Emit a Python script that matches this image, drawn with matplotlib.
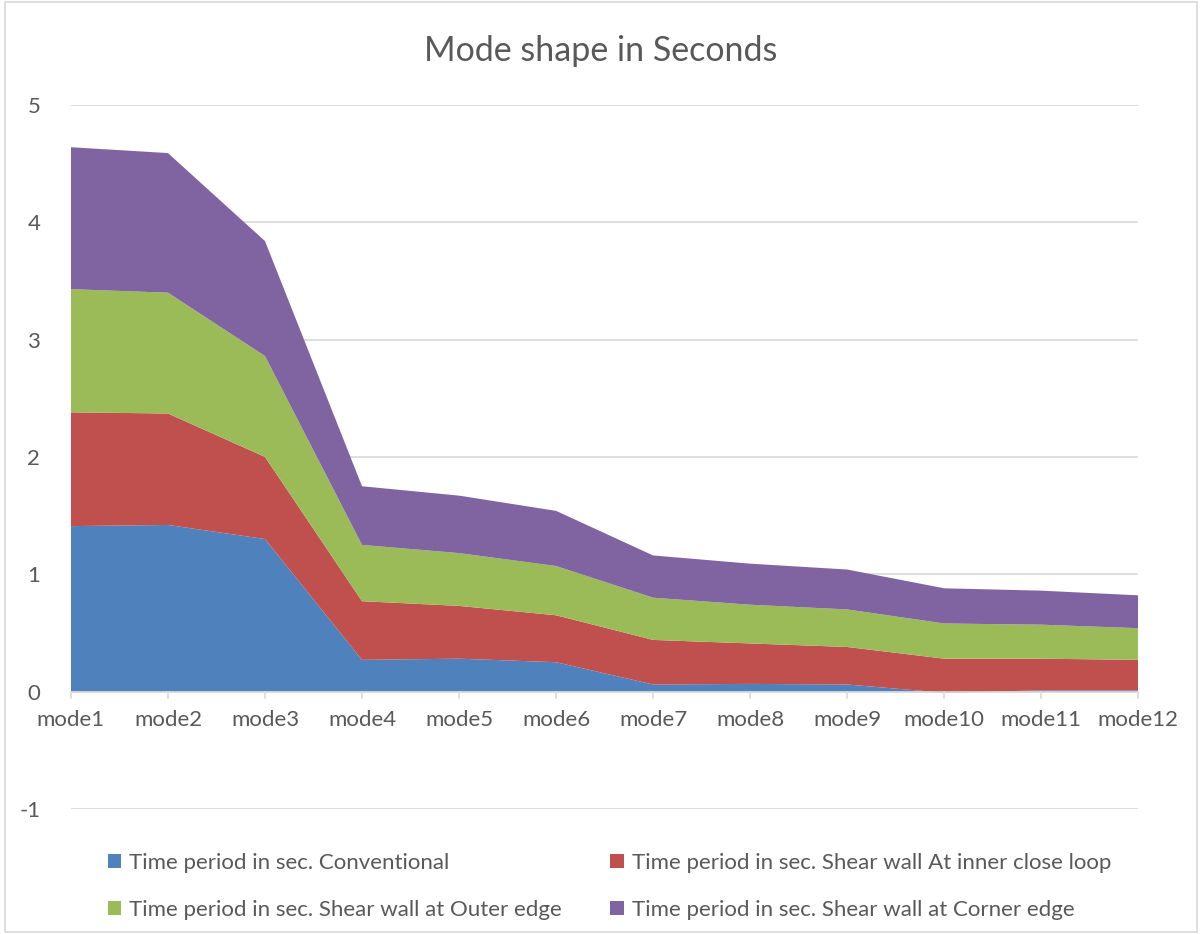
import matplotlib.pyplot as plt
from matplotlib.patches import Rectangle

plt.rcParams['font.family'] = ['Lato', 'DejaVu Sans']
plt.rcParams['axes.unicode_minus'] = False

modes = ["mode1", "mode2", "mode3", "mode4", "mode5", "mode6",
         "mode7", "mode8", "mode9", "mode10", "mode11", "mode12"]
conventional = [1.41, 1.42, 1.30, 0.27, 0.28, 0.25, 0.06, 0.065, 0.06, -0.01, 0.01, 0.01]
inner_loop = [0.97, 0.95, 0.70, 0.50, 0.45, 0.40, 0.38, 0.345, 0.32, 0.29, 0.27, 0.26]
outer_edge = [1.05, 1.03, 0.86, 0.48, 0.45, 0.42, 0.36, 0.33, 0.32, 0.30, 0.29, 0.27]
corner_edge = [1.21, 1.19, 0.98, 0.50, 0.49, 0.47, 0.36, 0.35, 0.34, 0.30, 0.29, 0.28]

labels = ["Time period in sec. Conventional",
          "Time period in sec. Shear wall At inner close loop",
          "Time period in sec. Shear wall at Outer edge",
          "Time period in sec. Shear wall at Corner edge"]
colors = ["#4F81BD", "#C0504D", "#9BBB59", "#8064A2"]
text_color = "#595959"
grid_color = "#D9D9D9"

fig = plt.figure(figsize=(12.02, 9.34), dpi=100)
ax = fig.add_axes([0.059, 0.134, 0.888, 0.7536])

x = list(range(len(modes)))
polys = ax.stackplot(x, conventional, inner_loop, outer_edge, corner_edge,
                     colors=colors, labels=labels, linewidth=0, zorder=2)

ax.set_xlim(0, len(modes) - 1)
ax.set_ylim(-1, 5)
ax.set_yticks(range(-1, 6))
ax.yaxis.grid(True, color=grid_color, linewidth=1.2, zorder=0)
ax.set_axisbelow(True)
for s in ax.spines.values():
    s.set_visible(False)
ax.axhline(0, color=grid_color, linewidth=1.2, zorder=3)

ax.set_xticks([])
ax.tick_params(axis='y', length=0, labelsize=16, labelcolor=text_color, pad=22)
# category axis sits on the zero line: short ticks and labels just below it
for xi, m in zip(x, modes):
    ax.plot([xi, xi], [0, -0.055], color=grid_color, linewidth=1.2, zorder=3, clip_on=False)
    ax.text(xi, -0.155, m, ha='center', va='top', fontsize=16, color=text_color, zorder=4)

fig.suptitle("Mode shape in Seconds", y=0.962, fontsize=24.5, color=text_color)

order = [0, 2, 1, 3]
fig.legend([polys[i] for i in order], [labels[i] for i in order],
           loc='lower left', bbox_to_anchor=(0.073, -0.006), ncol=2, frameon=False,
           fontsize=16, labelcolor=text_color, handlelength=0.6, handleheight=0.6,
           handletextpad=0.35, columnspacing=2.2, labelspacing=1.2)

fig.patches.append(Rectangle((0.004, 0.002), 0.992, 0.996, transform=fig.transFigure,
                             fill=False, edgecolor=grid_color, linewidth=1.2))

fig.savefig("out.png", dpi=100)
